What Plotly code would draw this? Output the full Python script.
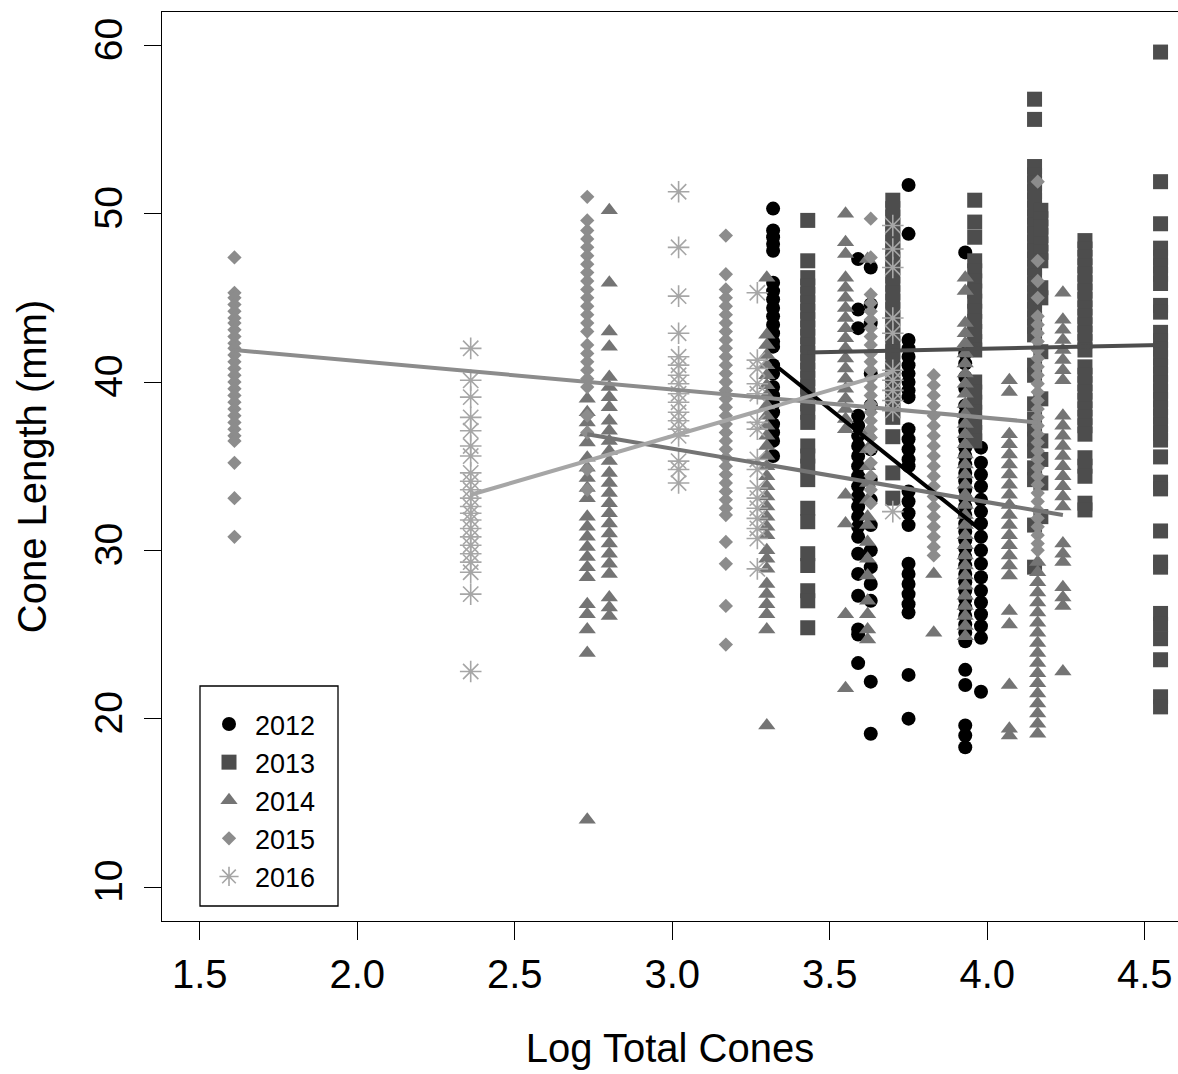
import plotly.graph_objects as go

# ---------------- data ----------------
years = ["2012", "2013", "2014", "2015", "2016"]
colors = ["#000000", "#4d4d4d", "#747474", "#8c8c8c", "#a6a6a6"]
symbols = ["circle", "square", "triangle-up", "diamond", "asterisk-open"]
marker_sizes = [14, 15, 15, 11, 18]

x_2012 = [3.32, 3.59, 3.63, 3.75, 3.93, 3.98]
y_2012 = [
    [50.3, 49.0, 48.6, 48.2, 47.8, 45.9, 45.4, 44.9, 44.4, 43.9, 43.4, 42.9, 42.4, 42.1,
     41.0, 40.5, 39.7, 39.2, 38.7, 38.2, 37.5, 37.0, 36.5, 35.6],
    [47.3, 44.3, 43.2, 38.0, 37.4, 36.8, 36.2, 35.6, 35.0, 34.4, 33.8, 33.2, 32.6, 32.0,
     31.4, 30.8, 29.8, 28.6, 27.3, 25.3, 25.0, 23.3],
    [46.8, 44.6, 43.5, 40.5, 38.6, 36.0, 34.2, 33.0, 31.5, 30.0, 29.0, 28.0, 27.0, 22.2, 19.1],
    [51.7, 48.8, 42.5, 42.0, 41.5, 41.0, 40.5, 40.0, 39.5, 39.1, 37.2, 36.6, 36.0, 35.4,
     35.0, 33.5, 32.9, 32.2, 31.5, 29.2, 28.6, 28.0, 27.4, 26.8, 26.3, 22.6, 20.0],
    [47.7, 41.7, 41.1, 40.3, 39.6, 38.6, 38.1, 37.6, 37.1, 36.6, 36.1, 35.6, 35.1, 34.6,
     34.1, 33.6, 33.1, 32.6, 32.1, 31.6, 31.1, 30.6, 30.1, 29.6, 29.1, 28.6, 28.1, 27.6,
     27.1, 26.6, 26.1, 25.6, 25.1, 24.6, 22.9, 22.0, 19.6, 19.0, 18.3],
    [36.1, 35.2, 34.5, 33.8, 33.0, 32.3, 31.6, 30.8, 30.0, 29.2, 28.4, 27.6, 26.9, 26.2,
     25.5, 24.8, 21.6],
]

x_2013 = [3.43, 3.70, 3.96, 4.15, 4.17, 4.31, 4.55]
y_2013 = [
    [49.6, 47.2, 46.2, 45.7, 45.2, 44.7, 44.2, 43.7, 43.2, 42.7, 42.2, 41.7, 41.2, 40.7,
     40.2, 39.7, 39.2, 38.7, 38.2, 37.6, 36.2, 35.6, 35.0, 34.2, 32.5, 31.7, 29.8, 29.1,
     27.6, 27.0, 25.4],
    [50.8, 50.3, 49.8, 49.3, 48.8, 48.3, 47.8, 47.3, 46.8, 46.3, 45.8, 45.3, 44.8, 44.3,
     43.8, 43.3, 42.8, 42.3, 41.8, 41.3, 40.8, 40.3, 39.8, 39.3, 38.8, 38.3, 37.9, 36.75,
     34.6, 33.1],
    [50.8, 49.5, 48.6, 47.2, 46.6, 46.0, 45.4, 44.8, 44.2, 43.6, 43.0, 42.4, 41.9, 40.0,
     39.4, 38.8, 38.2, 37.6, 37.0, 36.5],
    [56.8, 55.6, 52.8, 52.3, 51.8, 51.3, 50.8, 50.3, 49.8, 49.3, 48.8, 48.3, 47.8, 47.3,
     46.8, 46.3, 45.8, 45.3, 44.8, 44.3, 43.8, 43.3, 42.8, 41.0, 40.4, 38.7, 37.8, 37.2,
     36.6, 35.9, 34.9, 34.2, 31.5, 29.0],
    [50.2, 49.7, 49.2, 48.7, 48.2, 47.7, 47.2, 45.6, 45.0, 41.8, 39.0, 36.5, 35.4, 34.0, 32.0],
    [48.4, 47.9, 47.4, 46.9, 46.4, 45.9, 45.4, 44.9, 44.4, 43.9, 43.4, 42.9, 42.4, 41.9,
     40.9, 40.4, 39.9, 39.4, 38.9, 38.4, 37.9, 37.4, 36.9, 35.5, 35.0, 34.4, 32.8, 32.4],
    [59.6, 51.9, 49.4, 47.95, 47.4, 46.9, 46.4, 45.85, 44.55, 44.15, 42.95, 42.45, 41.95,
     41.45, 40.95, 40.45, 39.95, 39.45, 38.95, 38.45, 37.95, 37.45, 36.95, 36.55, 35.55,
     34.05, 33.65, 31.15, 29.3, 29.0, 26.25, 25.6, 24.75, 23.5, 21.3, 20.7],
]

x_2014 = [2.73, 2.80, 3.30, 3.55, 3.62, 3.83, 3.93, 4.07, 4.16, 4.24]
y_2014 = [
    [39.0, 38.2, 37.6, 37.0, 36.4, 35.5, 34.9, 34.3, 33.7, 33.1, 32.0, 31.4, 30.8, 30.2,
     29.6, 29.0, 28.4, 26.8, 26.2, 25.3, 23.9, 14.0],
    [50.2, 45.9, 43.0, 42.1, 40.3, 39.7, 39.1, 38.5, 37.7, 37.1, 36.5, 35.9, 35.3, 34.6,
     34.0, 33.4, 32.8, 32.2, 31.6, 31.0, 30.4, 29.8, 29.2, 28.6, 27.2, 26.6, 26.1],
    [46.2, 42.8, 42.2, 41.6, 41.0, 40.4, 39.8, 39.2, 38.6, 38.0, 37.4, 36.8, 36.2, 35.6,
     35.0, 34.4, 33.8, 33.2, 32.6, 32.0, 31.4, 30.9, 30.0, 29.5, 28.9, 28.0, 27.4, 26.8,
     26.2, 25.3, 19.6],
    [50.0, 48.3, 47.6, 46.2, 45.6, 45.0, 44.4, 43.8, 43.2, 42.6, 42.0, 41.4, 40.8, 40.2,
     39.6, 39.0, 38.4, 37.8, 37.2, 33.3, 31.6, 26.2, 21.8],
    [47.3, 37.0, 36.0, 35.0, 34.0, 33.0, 32.0, 31.5, 30.5, 29.5, 28.5, 27.0, 26.2, 25.3, 24.7],
    [28.6, 25.1],
    [46.2, 45.4, 43.5, 42.9, 42.3, 41.7, 41.1, 40.5, 39.9, 39.3, 38.7, 38.1, 37.5, 36.9,
     36.3, 35.7, 35.1, 34.5, 33.9, 33.3, 32.7, 32.1, 31.5, 30.9, 30.3, 29.7, 29.1, 28.5,
     27.9, 27.3, 26.7, 26.1, 25.5, 24.9],
    [40.1, 39.4, 36.9, 36.3, 35.7, 35.1, 34.5, 33.9, 33.3, 32.7, 32.1, 31.5, 30.9, 30.3,
     29.7, 29.1, 28.5, 26.4, 25.6, 22.0, 19.4, 19.0],
    [29.3, 28.7, 28.1, 27.5, 26.9, 26.3, 25.7, 25.1, 24.5, 23.9, 23.3, 22.7, 22.1, 21.5,
     20.9, 20.3, 19.7, 19.1],
    [45.3, 43.7, 43.1, 42.5, 41.9, 41.3, 40.7, 40.1, 38.0, 37.4, 36.8, 36.2, 35.6, 35.0,
     34.4, 33.8, 33.2, 32.6, 30.4, 29.8, 29.3, 27.8, 27.2, 26.7, 22.8],
]

x_2015 = [1.61, 2.73, 3.17, 3.63, 3.83, 4.16]
y_2015 = [
    [47.4, 45.3, 45.0, 44.6, 44.2, 43.8, 43.5, 43.1, 42.7, 42.3, 42.0, 41.6, 41.2, 40.8,
     40.4, 40.0, 39.6, 39.2, 38.8, 38.4, 38.0, 37.6, 37.2, 36.8, 36.5, 35.2, 33.1, 30.8],
    [51.0, 49.6, 49.0, 48.5, 48.0, 47.5, 47.0, 46.5, 46.0, 45.5, 45.0, 44.5, 44.0, 43.5,
     43.0, 42.2, 41.7, 41.2, 40.7, 40.2, 39.7, 38.0, 37.0, 34.8, 33.6],
    [48.7, 46.4, 45.5, 45.0, 44.5, 44.0, 43.5, 43.0, 42.5, 42.0, 41.5, 41.0, 40.5, 40.0,
     39.5, 39.0, 38.5, 38.0, 37.5, 37.0, 36.5, 36.0, 35.5, 35.0, 34.5, 34.0, 33.5, 33.0,
     32.5, 32.1, 30.5, 29.2, 26.7, 24.4],
    [49.7, 47.4, 45.2, 44.7, 44.2, 43.7, 43.2, 42.7, 42.2, 41.7, 41.2, 40.7, 40.2, 39.7,
     39.2, 38.7, 38.2, 37.7, 37.2, 36.7, 36.0, 35.2, 34.4, 33.6, 32.8],
    [40.4, 39.8, 39.2, 38.6, 38.0, 37.4, 36.8, 36.2, 35.6, 35.0, 34.4, 33.8, 33.2, 32.6,
     32.0, 31.4, 30.8, 30.2, 29.7],
    [51.9, 47.2, 46.0, 45.0, 43.9, 43.4, 42.9, 42.4, 41.9, 41.4, 40.9, 40.4, 39.9, 39.4,
     38.9, 38.4, 37.9, 37.4, 36.9, 36.4, 35.9, 35.4, 34.9, 34.4, 33.9, 33.4, 32.9, 32.4,
     31.9, 31.4, 30.9, 30.4, 30.0],
]

x_2016 = [2.36, 3.02, 3.27, 3.70]
y_2016 = [
    [42.0, 40.1, 39.1, 37.9, 37.1, 36.2, 35.6, 34.6, 34.1, 33.6, 33.1, 32.6, 32.2, 31.8,
     31.3, 30.8, 30.3, 29.8, 29.3, 28.7, 27.4, 22.8],
    [51.3, 48.0, 45.1, 42.9, 41.5, 41.0, 40.4, 39.9, 39.3, 38.8, 38.2, 37.7, 37.2, 36.8,
     35.3, 34.8, 34.0],
    [45.3, 41.3, 40.8, 39.9, 39.3, 37.6, 37.2, 35.4, 34.8, 33.7, 33.1, 32.5, 31.9, 31.3,
     30.7, 28.9],
    [49.3, 47.9, 46.8, 43.8, 42.9, 40.7, 40.1, 39.5, 38.9, 38.3, 32.3],
]

# fitted lines per year: [x_start, x_end], [y_start, y_end]
fit_x = [[3.32, 3.98], [3.43, 4.55], [2.73, 4.24], [1.61, 4.16], [2.36, 3.70]]
fit_y = [[41.1, 31.2], [41.75, 42.2], [36.9, 32.1], [41.9, 37.6], [33.3, 40.6]]

x_ticks = [1.5, 2.0, 2.5, 3.0, 3.5, 4.0, 4.5]
x_tick_labels = ["1.5", "2.0", "2.5", "3.0", "3.5", "4.0", "4.5"]
y_ticks = [10, 20, 30, 40, 50, 60]
y_tick_labels = ["10", "20", "30", "40", "50", "60"]

# ---------------- figure ----------------
all_x = [x_2012, x_2013, x_2014, x_2015, x_2016]
all_y = [y_2012, y_2013, y_2014, y_2015, y_2016]

fig = go.Figure()
FONT = "Liberation Sans, Arial, sans-serif"

for i, yr in enumerate(years):
    xs, ys = [], []
    for xv, col in zip(all_x[i], all_y[i]):
        xs.extend([xv] * len(col))
        ys.extend(col)
    is_ast = symbols[i].startswith("asterisk")
    fig.add_trace(go.Scatter(
        x=xs, y=ys, mode="markers", name=yr,
        marker=dict(symbol=symbols[i], size=marker_sizes[i], color=colors[i],
                    line=dict(width=1.6 if is_ast else 0, color=colors[i])),
    ))

for i, yr in enumerate(years):
    fig.add_trace(go.Scatter(
        x=fit_x[i], y=fit_y[i], mode="lines", showlegend=False,
        line=dict(color=colors[i], width=4), hoverinfo="skip",
    ))

W, H = 1178, 1074
L, T, B = 162, 12, 153
PW, PH = W - L, H - T - B

# legend frame (drawn as a shape so the padding can match the reference)
fig.add_shape(type="rect", xref="paper", yref="paper",
              x0=(200 - L) / PW, x1=(338 - L) / PW,
              y0=(T + PH - 906) / PH, y1=(T + PH - 686) / PH,
              line=dict(color="black", width=1.3), fillcolor="white", layer="above")

fig.update_layout(
    width=W, height=H,
    margin=dict(l=L, r=0, t=T, b=B),
    paper_bgcolor="white", plot_bgcolor="white",
    font=dict(family=FONT, color="black"),
    legend=dict(
        x=(203 - L) / PW, y=(T + PH - 700) / PH, xanchor="left", yanchor="top",
        bgcolor="rgba(0,0,0,0)", borderwidth=0,
        font=dict(size=27, family=FONT), itemsizing="trace", itemwidth=42,
        tracegroupgap=0,
    ),
    showlegend=True,
)
fig.update_xaxes(
    range=[1.38, 1.38 + PW / 315.0],
    tickvals=x_ticks, ticktext=x_tick_labels,
    ticks="outside", ticklen=18, tickwidth=1.3, tickcolor="black",
    showline=True, linecolor="black", linewidth=1.3, mirror=True,
    showgrid=False, zeroline=False,
    tickfont=dict(size=40, family=FONT),
    title=dict(text="Log Total Cones", font=dict(size=40, family=FONT), standoff=38),
)
fig.update_yaxes(
    range=[7.98, 61.98],
    tickvals=y_ticks, ticktext=y_tick_labels, tickangle=-90,
    ticks="outside", ticklen=17, tickwidth=1.3, tickcolor="black",
    showline=True, linecolor="black", linewidth=1.3, mirror=False,
    showgrid=False, zeroline=False, ticklabelstandoff=6,
    tickfont=dict(size=39, family=FONT),
    title=dict(text="Cone Length (mm)", font=dict(size=40, family=FONT), standoff=28),
)

fig.write_html(
    "out.html",
    config={"displayModeBar": False},
    post_script="document.body.style.margin='0';document.body.style.overflow='hidden';",
)
